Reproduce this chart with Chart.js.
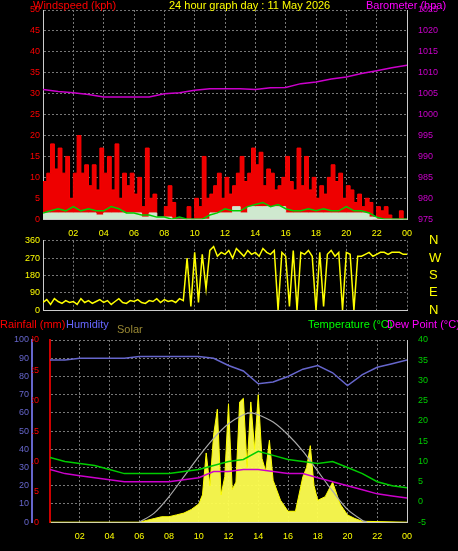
<!DOCTYPE html>
<html><head><meta charset="utf-8">
<script src="https://cdn.jsdelivr.net/npm/chart.js@4"></script>
<style>
body{margin:0;background:#000;width:458px;height:551px;overflow:hidden;position:relative;font-family:"Liberation Sans",Arial,sans-serif}
.w{position:absolute;left:0;width:458px}
.t{position:absolute;font-size:11px;white-space:nowrap}
</style></head><body>
<div class="w" style="top:0;height:248px"><canvas id="c1" width="458" height="248"></canvas></div>
<div class="w" style="top:219px;height:113px"><canvas id="c2" width="458" height="113"></canvas></div>
<div class="w" style="top:330px;height:221px"><canvas id="c3" width="458" height="221"></canvas></div>
<div class="t" style="left:33px;top:-1px;color:#f00">Windspeed (kph)</div>
<div class="t" style="left:169px;top:-1px;color:#ff0">24 hour graph day : 11 May 2026</div>
<div class="t" style="left:366px;top:-1px;color:#f0f">Barometer (hpa)</div>
<div class="t" style="left:0px;top:318px;color:#f00">Rainfall (mm)</div>
<div class="t" style="left:66px;top:318px;color:#66f">Humidity</div>
<div class="t" style="left:117px;top:323px;color:#998833">Solar</div>
<div class="t" style="left:308px;top:318px;color:#0f0">Temperature (°C)</div>
<div class="t" style="left:387px;top:318px;color:#f0f">Dew Point (°C)</div>
<script>
// ---- data ----
const gustX15 = [...Array(97).keys()].map(i=>i/4);
const windGust = [9,11,18,12, 17,11,15,5, 11,20,11,13, 8,13,7,17, 11,15,7,18, 5,11,8,11, 6,10,3,17, 5,6,0,0,
 3,8,4,0, 0,0,3,0, 5,3,15,5, 6,8,11,5, 10,6,8,11, 15,9,11,17, 13,16,8,12, 11,7,8,10, 15,9,7,17, 8,15,7,10,
 5,8,6,10, 13,9,11,5, 8,7,4,6, 3,5,4,0, 3,2,3,1, 0,0,2,0, 0];
const x30 = [...Array(49).keys()].map(i=>i/2);
const windAvg = [1.5,2,2.5,2,3,2,2.5,2,2,3,2.5,1.5,1.5,1,1,0.5,0.5,0,0.5,0,0,0,1,1.5,2.5,2,2,3,3.5,4,3,3.5,2.5,2,2,2.5,2,2.5,2,2,3,2,2,1.5,0.5,0,0,0,0];
const windSpd = [1.5,1.5,1.5,1.5,1.5,1.5,1.5,1,1.5,1.5,1.5,1.5,1.5,0.5,1.5,0.5,0.5,0,0,0,0,0,1.5,1.5,1.5,3,1.5,3,3,3,3,3,1.5,1.5,1.5,1.5,1.5,1.5,1.5,1.5,1.5,1.5,1.5,0.5,0,0,0,0,0];
const hours = [...Array(25).keys()];
const baro = [1006,1005.5,1005.2,1004.8,1004.2,1004.2,1004.2,1004.2,1005,1005.2,1005.8,1006.2,1006.2,1006.2,1006,1006.4,1006.5,1007.4,1007.8,1008.5,1009,1009.8,1010.5,1011.2,1011.8];
const windDir = [40,55,30,60,45,35,50,40, 45,30,60,40,50,35,45,55, 40,50,30,45,60,40,35,50, 45,55,40,35,50,45,60,40,
 55,45,50,40,60,50,270,20, 300,40,290,110,310,330,280,300, 290,310,270,320,300,280,310,290, 300,280,320,300,290,310,0,300,
 280,20,310,0,300,290,310,280, 0,300,20,290,310,280,300,0, 300,290,0,280,280,290,300,280, 290,300,300,290,300,300,300,290, 290];
const humidity = [89,89,90,90,90,90,91,91,91,91,91,90,86,83,76,77,80,84,86,82,75,81,85,87,89];
const rainX = [0,1,2,3,4,5,6,7,8,9,10,11,12,13,14,15,16,17,18,19,20,21,22,23,24,24];
const rain = [0,0.5,2,3.5,5.5,6,6.5,7,7.5,8,8,8,8,8,8,8,8,8,8,8,8,8,8,8,8,0];
const temp = [11,10,9.5,9,8,7,7,7,7,7.5,8,9,10,10.5,12.5,11.5,10.5,10,9.5,10,8.5,7,5,4,3.5];
const dew = [8,7,6.5,6,5.5,5,5,5,5,5.5,6,7.5,7.5,8,8,7.5,7,7,6,5,4,3,2,1.5,1];
const solarThX = [6,7,8,9,10,11,12,13,13.5,14,15,16,17,18,19,20,21,21.3];
const solarTh = [0,5,14,25,36,46,54,59,60,59,55,48,39,28,17,7,1,0];
const solarX = [0,6,6.5,7,7.5,8,8.5,9,9.5,10,10.25,10.5,10.75,11,11.25,11.5,11.75,12,12.25,12.5,12.75,13,13.25,13.5,13.75,14,14.25,14.5,14.75,15,15.5,16,16.5,17,17.25,17.5,17.75,18,18.5,19,19.5,20,20.5,21,24];
const solar = [0,0,1,2,3,3,4,5,7,10,15,38,20,48,62,15,25,65,18,22,66,68,30,66,40,70,35,28,45,23,12,6,6,25,30,42,20,12,14,22,10,4,2,0.5,0];
// ---- helpers ----
const grid={color:'#777',drawTicks:false};
const fnt={family:'Liberation Sans',size:9};
const plain=v=>String(v);
const hourTick=v=>{const h=v%24;return (h<10?'0':'')+h;};
const xs=(show)=>({type:'linear',min:0,max:24,grid:{...grid},border:{color:'#ccc',dash:[2,2]},
  ticks:{display:show,stepSize:2,color:'#ff0',font:fnt,padding:9,callback:(v)=>v===0?'':hourTick(v),autoSkip:false}});
const fitW=w=>function(s){s.width=w;};
const pts=(x,y)=>y.map((v,i)=>({x:x[i],y:v}));
const base={responsive:false,animation:false,plugins:{legend:{display:false},tooltip:{enabled:false}},elements:{point:{radius:0}}};
// ---- chart 1 ----
new Chart(document.getElementById('c1'),{type:'line',data:{datasets:[
 {data:pts(x30,windSpd),yAxisID:'y',borderColor:'#cfe8cf',backgroundColor:'#cfe8cf',fill:'origin',stepped:true,borderWidth:1,order:1},
 {data:pts(x30,windAvg),yAxisID:'y',borderColor:'#0c0',borderWidth:1.5,fill:false,order:0},
 {data:pts(gustX15,windGust),yAxisID:'y',borderColor:'#f00',backgroundColor:'#e00',fill:'origin',stepped:true,borderWidth:1,order:3},
 {data:pts(hours,baro),yAxisID:'y1',borderColor:'#c0c',borderWidth:1.5,fill:false}
]},options:{...base,layout:{padding:{top:10,bottom:0}},scales:{
 x:xs(true),
 y:{min:0,max:50,position:'left',afterFit:fitW(43),grid:{...grid},border:{color:'#ccc',dash:[2,2]},ticks:{stepSize:5,color:'#f00',font:fnt,callback:plain}},
 y1:{min:975,max:1025,position:'right',afterFit:fitW(51),grid:{display:false},border:{color:'#ccc'},ticks:{stepSize:5,color:'#c0c',font:fnt,callback:plain}}
}}});
// ---- chart 2 ----
new Chart(document.getElementById('c2'),{type:'line',data:{datasets:[
 {data:pts(gustX15,windDir),yAxisID:'y',borderColor:'#ff0',borderWidth:1.5,fill:false}
]},options:{...base,layout:{padding:{top:6,bottom:6}},scales:{
 x:{...xs(false),ticks:{display:false,stepSize:2},afterFit:function(s){s.height=0;}},
 y:{min:0,max:360,position:'left',afterFit:fitW(43),grid:{...grid},border:{color:'#ccc',dash:[2,2]},ticks:{stepSize:90,autoSkip:false,color:'#ff0',font:fnt,callback:plain}},
 y1:{min:0,max:360,position:'right',afterFit:fitW(51),grid:{display:false},border:{display:false},
   ticks:{stepSize:90,autoSkip:false,color:'#ff0',font:{family:'Liberation Sans',size:13},padding:14,callback:v=>['N','E','S','W','N'][v/90]}}
}}});
// ---- chart 3 ----
new Chart(document.getElementById('c3'),{type:'line',data:{datasets:[
 {data:pts(solarX,solar),yAxisID:'h',borderColor:'#ff0',backgroundColor:'rgba(255,255,80,0.95)',fill:'origin',borderWidth:1,order:5},
 {data:pts(solarThX,solarTh),yAxisID:'h',borderColor:'#aaa',borderWidth:1.2,fill:false,tension:0.3,order:4},
 {data:pts(hours,humidity),yAxisID:'h',borderColor:'#66c',borderWidth:1.5,fill:false,order:1},
 {data:pts(hours,temp),yAxisID:'t',borderColor:'#0c0',borderWidth:1.5,fill:false,order:2},
 {data:pts(hours,dew),yAxisID:'t',borderColor:'#c0c',borderWidth:1.5,fill:false,order:3},
 {data:pts(rainX,rain),yAxisID:'r',borderColor:'#f00',borderWidth:2,fill:false,order:0}
]},options:{...base,layout:{padding:{top:10,bottom:0}},scales:{
 x:xs(true),
 h:{min:0,max:100,position:'left',weight:2,afterFit:fitW(32),grid:{...grid},border:{color:'#66c',width:2,dash:[2,2]},ticks:{stepSize:10,color:'#66c',font:fnt,callback:plain}},
 r:{min:0,max:30,position:'left',weight:1,afterFit:fitW(18),grid:{display:false},border:{color:'#c00',width:2},ticks:{stepSize:5,color:'#f00',font:fnt,callback:plain}},
 t:{min:-5,max:40,position:'right',afterFit:fitW(51),grid:{display:false},border:{color:'#ccc'},ticks:{stepSize:5,color:'#0c0',font:fnt,callback:plain}}
}}});
</script></body></html>
